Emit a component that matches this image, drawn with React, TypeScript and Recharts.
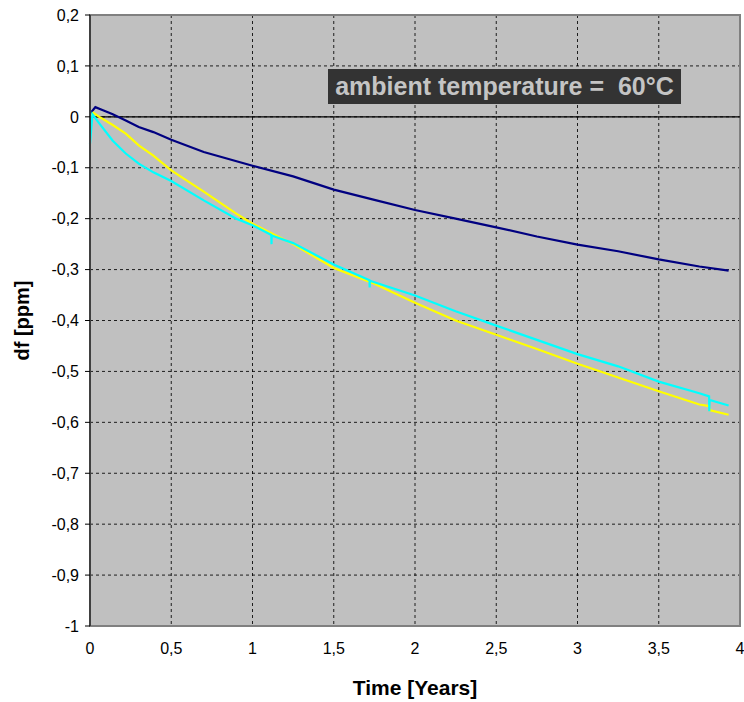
import React from 'react';
import {
    LineChart, Line, XAxis, YAxis, CartesianGrid, ReferenceLine, ReferenceArea, Label
} from 'recharts';

// time in years, df in ppm
const navyTime = [0, 0.01, 0.033, 0.08, 0.14, 0.22, 0.3, 0.39, 0.5, 0.7, 1, 1.25, 1.5, 1.75, 2, 2.25, 2.5, 2.75, 3, 3.25, 3.5, 3.75, 3.93];
const navyDf = [-0.005, 0.01, 0.019, 0.013, 0.005, -0.007, -0.02, -0.03, -0.045, -0.069, -0.096, -0.117, -0.143, -0.163, -0.183, -0.2, -0.217, -0.235, -0.251, -0.264, -0.28, -0.294, -0.302];

const cyanTime = [0, 0.015, 0.057, 0.14, 0.22, 0.3, 0.39, 0.5, 0.7, 0.9, 1, 1.116, 1.117, 1.118, 1.25, 1.5, 1.72, 1.721, 1.722, 1.75, 2, 2.25, 2.5, 2.75, 3, 3.25, 3.5, 3.75, 3.81, 3.811, 3.813, 3.93];
const cyanDf = [-0.053, 0.005, -0.013, -0.047, -0.072, -0.092, -0.109, -0.126, -0.164, -0.2, -0.213, -0.232, -0.25, -0.233, -0.248, -0.29, -0.321, -0.335, -0.322, -0.325, -0.351, -0.382, -0.41, -0.438, -0.466, -0.49, -0.52, -0.543, -0.549, -0.578, -0.556, -0.567];

const yellowTime = [0, 0.02, 0.057, 0.14, 0.22, 0.3, 0.39, 0.5, 0.7, 0.9, 1, 1.25, 1.5, 1.75, 2, 2.25, 2.5, 2.75, 3, 3.25, 3.5, 3.75, 3.81, 3.812, 3.93];
const yellowDf = [0, 0.008, 0, -0.016, -0.033, -0.056, -0.076, -0.105, -0.147, -0.19, -0.21, -0.25, -0.297, -0.328, -0.365, -0.4, -0.428, -0.456, -0.485, -0.512, -0.539, -0.565, -0.568, -0.576, -0.585];

const xTicks = [0, 0.5, 1, 1.5, 2, 2.5, 3, 3.5, 4];
const yTicks = [0.2, 0.1, 0, -0.1, -0.2, -0.3, -0.4, -0.5, -0.6, -0.7, -0.8, -0.9, -1];

const toRows = (t: number[], v: number[]) => t.map((x, i) => ({ t: x, df: v[i] }));
const navyData = toRows(navyTime, navyDf);
const cyanData = toRows(cyanTime, cyanDf);
const yellowData = toRows(yellowTime, yellowDf);

const fmt = (v: number) => String(Math.round(v * 10) / 10).replace('.', ',');

const FONT = '"Liberation Sans", Arial, sans-serif';

export default function App() {
    return (
        <div style={{ position: 'absolute', left: 0, top: 0, width: 744, height: 702, background: '#fff', fontFamily: FONT }}>
            <LineChart width={744} height={702} margin={{ top: 15, right: 4, bottom: 16, left: 0 }}>
                <CartesianGrid fill="#c0c0c0" stroke="#000" strokeDasharray="3 3" strokeOpacity={0.85} />
                <ReferenceArea x1={0} x2={4} y1={-1} y2={0.2} fill="none" stroke="#808080" strokeWidth={2} />
                <ReferenceLine y={0} stroke="#000" strokeWidth={1.2} />
                <XAxis
                    dataKey="t"
                    type="number"
                    domain={[0, 4]}
                    ticks={xTicks}
                    tickFormatter={fmt}
                    allowDuplicatedCategory={false}
                    height={60}
                    tickLine={false}
                    axisLine={{ stroke: '#808080', strokeWidth: 2 }}
                    tick={{ fill: '#000', fontSize: 16, fontFamily: FONT }}
                    tickMargin={11}
                >
                    <Label value="Time [Years]" position="insideBottom" offset={-9}
                        style={{ fill: '#000', fontSize: 21, fontWeight: 'bold', fontFamily: FONT }} />
                </XAxis>
                <YAxis
                    type="number"
                    domain={[-1, 0.2]}
                    ticks={yTicks}
                    tickFormatter={fmt}
                    width={90}
                    tickSize={5}
                    tickMargin={6}
                    tickLine={{ stroke: '#000' }}
                    axisLine={{ stroke: '#404040', strokeWidth: 2 }}
                    tick={{ fill: '#000', fontSize: 16, fontFamily: FONT }}
                >
                    <Label value="df [ppm]" angle={-90} position="insideLeft" offset={22}
                        textAnchor="middle" verticalAnchor="middle"
                        style={{ fill: '#000', fontSize: 20, fontWeight: 'bold', fontFamily: FONT }} />
                </YAxis>
                <Line data={navyData} dataKey="df" type="linear" stroke="#000080" strokeWidth={2.2} dot={false} isAnimationActive={false} />
                <Line data={yellowData} dataKey="df" type="linear" stroke="#ffff00" strokeWidth={2.2} dot={false} isAnimationActive={false} />
                <Line data={cyanData} dataKey="df" type="linear" stroke="#00ffff" strokeWidth={2.2} dot={false} isAnimationActive={false} />
            </LineChart>
            <div style={{
                position: 'absolute', left: 328, top: 69, width: 353, height: 35,
                background: '#333333', color: '#c4c4c4', fontWeight: 'bold', fontSize: 25,
                lineHeight: '35px', textAlign: 'center', whiteSpace: 'pre', fontFamily: FONT
            }}>
                {'ambient temperature =  60°C'}
            </div>
        </div>
    );
}
